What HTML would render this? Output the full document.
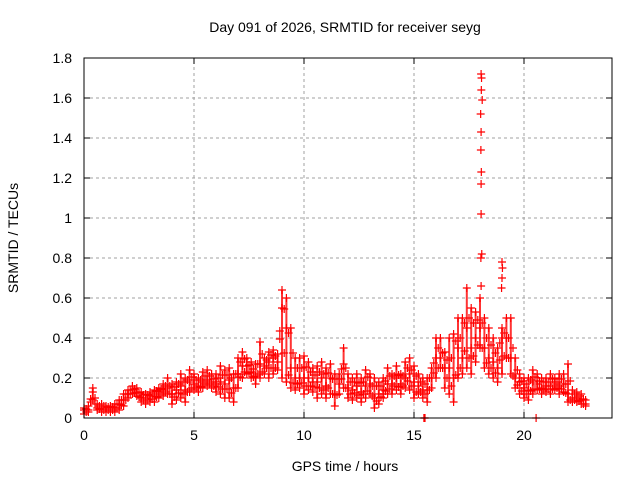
<!DOCTYPE html>
<html><head><meta charset="utf-8"><style>
html,body{margin:0;padding:0;background:#fff;}
svg{display:block;font-family:"Liberation Sans",sans-serif;}
</style></head><body>
<svg id="chart" width="640" height="480" viewBox="0 0 640 480">
<rect x="0" y="0" width="640" height="480" fill="#fff"/>
<g id="grid"></g>
<g id="marks"></g>
<rect x="84" y="58" width="528" height="360" fill="none" stroke="#000" stroke-width="1"/>
<g id="ticks"></g>
<text x="345" y="32" text-anchor="middle" font-size="14">Day 091 of 2026, SRMTID for receiver seyg</text>
<text x="345" y="471" text-anchor="middle" font-size="14">GPS time / hours</text>
<text x="18" y="238" text-anchor="middle" font-size="14" transform="rotate(-90 18 238)">SRMTID / TECUs</text>
</svg>
<script>
const xTicks=[0,5,10,15,20];
const yTicks=[0,0.2,0.4,0.6,0.8,1,1.2,1.4,1.6,1.8];
const yTickLabels=["0","0.2","0.4","0.6","0.8","1","1.2","1.4","1.6","1.8"];
const times=[0,0.2,0.4,0.6,0.8,1.0,1.2,1.4,1.6,1.8,2.0,2.2,2.4,2.6,2.8,3.0,3.2,3.4,3.6,3.8,4.0,4.2,4.4,4.6,4.8,5.0,5.2,5.4,5.6,5.8,6.0,6.2,6.4,6.6,6.8,7.0,7.2,7.4,7.6,7.8,8.0,8.2,8.4,8.6,8.8,9.0,9.2,9.4,9.6,9.8,10.0,10.2,10.4,10.6,10.8,11.0,11.2,11.4,11.6,11.8,12.0,12.2,12.4,12.6,12.8,13.0,13.2,13.4,13.6,13.8,14.0,14.2,14.4,14.6,14.8,15.0,15.2,15.4,15.6,15.8,16.0,16.2,16.4,16.6,16.8,17.0,17.2,17.4,17.6,17.8,18.0,18.2,18.4,18.6,18.8,19.0,19.2,19.4,19.6,19.8,20.0,20.2,20.4,20.6,20.8,21.0,21.2,21.4,21.6,21.8,22.0,22.2,22.4,22.6,22.8];
const lowVals=[.02,.03,.09,.04,.03,.03,.03,.03,.04,.06,.1,.12,.11,.08,.07,.08,.08,.1,.11,.12,.07,.09,.1,.08,.13,.14,.13,.15,.16,.15,.13,.12,.1,.1,.08,.15,.2,.22,.2,.17,.2,.22,.2,.22,.24,.2,.18,.15,.14,.15,.12,.14,.13,.1,.12,.1,.12,.06,.12,.15,.1,.09,.1,.08,.1,.12,.05,.07,.1,.12,.12,.14,.12,.15,.14,.1,.12,.1,.08,.15,.2,.25,.15,.12,.08,.2,.22,.25,.22,.28,.35,.25,.22,.2,.18,.22,.3,.22,.15,.12,.1,.09,.12,.14,.12,.13,.12,.14,.12,.13,.08,.08,.08,.07,.06];
const midVals=[.04,.04,.13,.05,.05,.05,.05,.05,.07,.09,.12,.14,.13,.1,.1,.11,.11,.13,.14,.15,.12,.14,.16,.14,.18,.17,.16,.18,.19,.18,.17,.18,.17,.19,.15,.22,.26,.26,.23,.21,.27,.26,.28,.3,.28,.55,.45,.25,.2,.2,.2,.2,.18,.18,.2,.16,.2,.12,.17,.27,.15,.14,.16,.13,.16,.17,.1,.12,.14,.17,.17,.2,.17,.2,.22,.18,.16,.14,.14,.2,.3,.3,.25,.25,.2,.35,.3,.45,.35,.4,.45,.35,.3,.28,.25,.4,.4,.3,.2,.18,.15,.14,.18,.17,.15,.16,.16,.17,.16,.17,.12,.1,.1,.09,.07];
const highVals=[.05,.06,.15,.07,.07,.06,.06,.07,.09,.12,.14,.16,.15,.13,.12,.13,.14,.15,.17,.2,.17,.18,.22,.2,.24,.22,.2,.23,.24,.22,.22,.26,.24,.25,.22,.3,.33,.3,.28,.27,.38,.3,.33,.34,.32,.64,.6,.45,.3,.3,.31,.28,.25,.26,.28,.25,.27,.22,.22,.35,.22,.2,.22,.2,.24,.22,.2,.18,.2,.25,.22,.26,.22,.28,.3,.26,.22,.2,.2,.25,.4,.4,.33,.4,.42,.5,.5,.65,.55,.53,.6,.5,.45,.4,.35,.45,.5,.5,.3,.22,.2,.2,.24,.22,.2,.2,.22,.2,.22,.22,.27,.14,.13,.12,.09];
const spikeTimes=[18.05,18.07,18.06,18.1,18.03,18.05,18.04,18.06,18.05,18.05,18.08,18.04,18.05,19.0,19.02,19.0,18.98,15.45,15.5,20.55];
const spikeVals=[1.72,1.70,1.64,1.59,1.52,1.43,1.34,1.23,1.17,1.02,0.82,0.8,0.66,0.78,0.75,0.7,0.65,0.0,0.0,0.0];
const NS="http://www.w3.org/2000/svg";
const X0=84,X1=612,Y0=418,Y1=58,XMAX=24,YMAX=1.8;
function xs(v){return X0+(X1-X0)*v/XMAX;}
function ys(v){return Y0-(Y0-Y1)*v/YMAX;}
function mk(tag,attrs,parent){const e=document.createElementNS(NS,tag);for(const k in attrs)e.setAttribute(k,attrs[k]);parent.appendChild(e);return e;}
const grid=document.getElementById('grid'),ticks=document.getElementById('ticks'),marks=document.getElementById('marks');
xTicks.forEach(t=>{const x=xs(t);
 if(t>0){const g=mk('line',{x1:x,x2:x,y1:Y0,y2:Y1,stroke:'#a0a0a0','stroke-dasharray':'3,3'},grid);
 
 }
 mk('line',{x1:x,x2:x,y1:Y0,y2:Y0-6,stroke:'#000'},ticks);
 mk('line',{x1:x,x2:x,y1:Y1,y2:Y1+6,stroke:'#000'},ticks);
 const l=mk('text',{x:x,y:Y0+22,'text-anchor':'middle','font-size':'14'},ticks);l.textContent=t;
 
 });
yTicks.forEach((t,i)=>{const y=ys(t);
 if(t>0&&t<YMAX){const g=mk('line',{x1:X0,x2:X1,y1:y,y2:y,stroke:'#a0a0a0','stroke-dasharray':'3,3'},grid);
 
 }
 mk('line',{x1:X0,x2:X0+6,y1:y,y2:y,stroke:'#000'},ticks);
 mk('line',{x1:X1,x2:X1-6,y1:y,y2:y,stroke:'#000'},ticks);
 const l=mk('text',{x:X0-12,y:y+5,'text-anchor':'end','font-size':'14'},ticks);l.textContent=yTickLabels[i];
 
 });
function plus(t,v){const x=xs(t),y=ys(v);
 const p=mk('path',{d:`M${x-4},${y}h8M${x},${y-4}v8`,stroke:'#ff0000','stroke-width':'1.2',fill:'none'},marks);
 
 }
times.forEach((t,i)=>{
 const b=mk('line',{x1:xs(t),x2:xs(t),y1:ys(lowVals[i]),y2:ys(highVals[i]),stroke:'#ff0000','stroke-width':'2','stroke-opacity':'0.8'},marks);
 
 
 plus(t,lowVals[i]);plus(t,midVals[i]);plus(t,highVals[i]);
 if(i<times.length-1){plus(t+0.1,(lowVals[i]+midVals[i+1])/2);plus(t+0.1,(highVals[i]+midVals[i+1])/2);}
});
spikeTimes.forEach((t,i)=>plus(t,spikeVals[i]));
</script>
</body></html>
